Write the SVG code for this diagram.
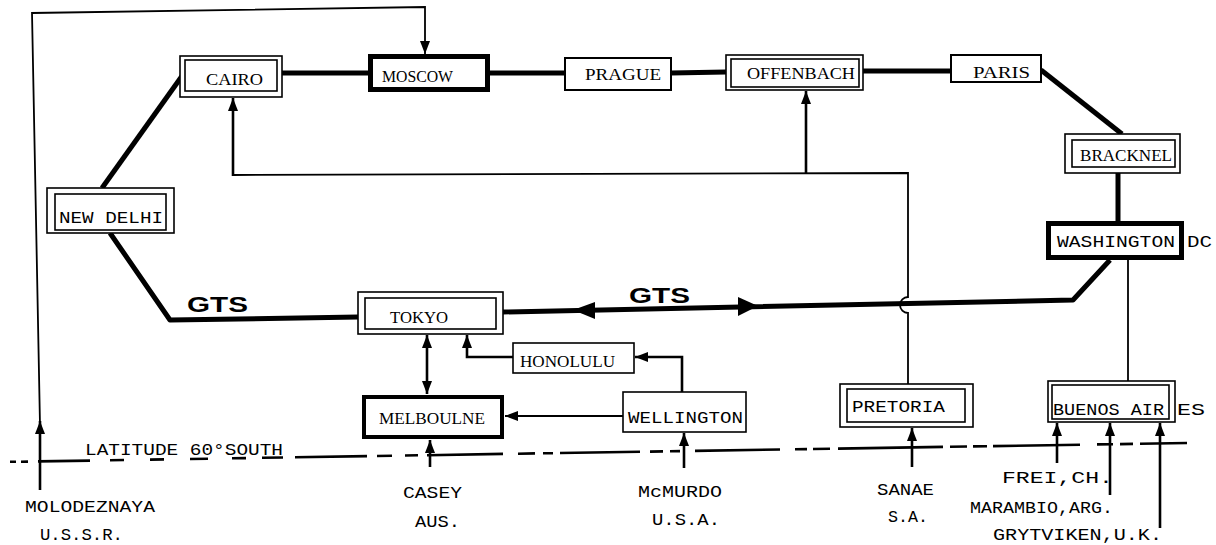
<svg xmlns="http://www.w3.org/2000/svg" width="1216" height="545" viewBox="0 0 1216 545">
<style>
.bx{fill:#fff;stroke:#000;stroke-width:1.6}
.tk{fill:#fff;stroke:#000;stroke-width:5}
.tk4{fill:#fff;stroke:#000;stroke-width:4}
.gts{fill:none;stroke:#000;stroke-width:5;stroke-linejoin:round}
.th{fill:none;stroke:#000;stroke-width:1.8}
.th2{fill:none;stroke:#000;stroke-width:2.6}
.lat{fill:none;stroke:#000;stroke-width:2.6}
.mono{font-family:"Liberation Mono","DejaVu Sans Mono",monospace;font-size:17px;fill:#000}
.serif{font-family:"Liberation Serif","DejaVu Serif",serif;font-size:16px;fill:#000}
.gl{font-family:"Liberation Sans",Arial,sans-serif;font-weight:bold;font-size:22px;fill:#000}
</style>
<defs>
<marker id="ah" viewBox="0 0 13 10" refX="13" refY="5" markerWidth="13" markerHeight="10" markerUnits="userSpaceOnUse" orient="auto-start-reverse"><path d="M0,0 L13,5 L0,10 z" fill="#000"/></marker>
</defs>
<rect width="1216" height="545" fill="#fff"/>

<g id="connectors">
  <path class="gts" d="M282,73 L368,73"/>
  <path class="gts" d="M490,73 L565,73"/>
  <path class="gts" d="M671,73 L726,72"/>
  <path class="gts" d="M863,71 L951,71"/>
  <path class="gts" d="M1041,70 L1122,134"/>
  <path class="gts" d="M1118,173 L1118,221"/>
  <path class="gts" d="M1110,260 L1073,300 L503,312"/>
  <path class="gts" d="M358,317 L170,320 L110,233"/>
  <path class="gts" d="M102,188 L182,76"/>
  <polygon points="573,310 595,302 595,319" fill="#000"/>
  <polygon points="758,306 738,297 738,316" fill="#000"/>
  <path class="th2" d="M40,490 L40,421" marker-end="url(#ah)"/>
  <path class="th" d="M40,425 L32,13 L425,7 L425,54" marker-end="url(#ah)"/>
  <path class="th" d="M908,384 L908,313 A8,8 0 0 1 908,297 L908,173 L233,175"/>
  <path class="th2" d="M233,176 L233,98" marker-end="url(#ah)"/>
  <path class="th2" d="M806,174 L806,91" marker-end="url(#ah)"/>
  <path class="th" d="M1128,260 L1128,381"/>
  <path class="th2" d="M427,335 L427,394" marker-start="url(#ah)" marker-end="url(#ah)"/>
  <path class="th2" d="M513,357 L467,357 L467,335" marker-end="url(#ah)"/>
  <path class="th2" d="M682,392 L682,357 L635,357" marker-end="url(#ah)"/>
  <path class="th" d="M623,416 L505,416" marker-end="url(#ah)"/>
  <path class="th2" d="M430,467 L430,440" marker-end="url(#ah)"/>
  <path class="th2" d="M684,468 L684,433" marker-end="url(#ah)"/>
  <path class="th2" d="M912,467 L912,428" marker-end="url(#ah)"/>
  <path class="th2" d="M1057,463 L1057,423" marker-end="url(#ah)"/>
  <path class="th2" d="M1110,495 L1110,423" marker-end="url(#ah)"/>
  <path class="th2" d="M1160,528 L1160,423" marker-end="url(#ah)"/>
</g>

<g id="latitude">
  <path class="lat" d="M10,461.8 L16,461.7 M21,461.7 L28,461.6 M38,461.4 L90,460.6 M110,460.2 L124,460 M150,459.6 L164,459.4 M190,459 L208,458.7 M232,458.3 L246,458.1 M262,457.8 L283,457.5 M295,457.3 L367,456.1 M377,456 L392,455.7 M405,455.5 L418,455.3 M427,455.2 L503,453.9 M518,453.7 L535,453.4 M543,453.3 L553,453.2 M560,453 L640,451.8 M650,451.6 L663,451.4 M670,451.3 L680,451.1 M695,450.9 L780,449.5 M795,449.3 L807,449.1 M813,449 L830,448.7 M838,448.6 L943,446.9 M950,446.8 L967,446.5 M973,446.4 L987,446.2 M993,446.1 L1080,444.7 M1097,444.4 L1113,444.2 M1120,444.1 L1133,443.9 M1140,443.8 L1187,443"/>
  <text class="mono" x="85" y="455" textLength="198" lengthAdjust="spacingAndGlyphs">LATITUDE 60°SOUTH</text>
</g>

<g id="cairo">
  <rect class="bx" x="180" y="56" width="102" height="41"/>
  <rect class="bx" x="185" y="60" width="92" height="31"/>
  <text class="serif" x="206" y="85" textLength="57" lengthAdjust="spacingAndGlyphs">CAIRO</text>
</g>
<g id="moscow">
  <rect class="tk" x="370.5" y="56.5" width="117" height="33"/>
  <text class="serif" x="382" y="82" textLength="71" lengthAdjust="spacingAndGlyphs">MOSCOW</text>
</g>
<g id="prague">
  <rect class="bx" x="565" y="58" width="106" height="32" style="stroke-width:2"/>
  <text class="serif" x="585" y="80" textLength="76" lengthAdjust="spacingAndGlyphs">PRAGUE</text>
</g>
<g id="offenbach">
  <rect class="bx" x="726" y="55" width="137" height="35"/>
  <rect class="bx" x="731" y="59" width="128" height="28"/>
  <text class="serif" x="747" y="79" textLength="108" lengthAdjust="spacingAndGlyphs">OFFENBACH</text>
</g>
<g id="paris">
  <rect class="bx" x="951" y="55" width="90" height="27" style="stroke-width:2"/>
  <text class="serif" x="973" y="78" textLength="57" lengthAdjust="spacingAndGlyphs">PARIS</text>
</g>
<g id="bracknel">
  <rect class="bx" x="1065" y="134" width="115" height="39"/>
  <rect class="bx" x="1072" y="140" width="103" height="27"/>
  <text class="serif" x="1080" y="161" textLength="92" lengthAdjust="spacingAndGlyphs">BRACKNEL</text>
</g>
<g id="washington">
  <rect class="tk" x="1048.5" y="223.5" width="133" height="34"/>
  <text class="mono" x="1057" y="247" textLength="118" lengthAdjust="spacingAndGlyphs">WASHINGTON</text>
  <text class="mono" x="1187" y="247" textLength="25" lengthAdjust="spacingAndGlyphs">DC</text>
</g>
<g id="new-delhi">
  <rect class="bx" x="47" y="188" width="127" height="45"/>
  <rect class="bx" x="55" y="194" width="111" height="36"/>
  <text class="mono" x="59" y="223" textLength="104" lengthAdjust="spacingAndGlyphs">NEW DELHI</text>
</g>
<g id="gts-labels">
  <text class="gl" x="187" y="312" textLength="61" lengthAdjust="spacingAndGlyphs">GTS</text>
  <text class="gl" x="629" y="303" textLength="61" lengthAdjust="spacingAndGlyphs">GTS</text>
</g>
<g id="tokyo">
  <rect class="bx" x="358" y="292" width="145" height="42"/>
  <rect class="bx" x="365" y="298" width="131" height="31"/>
  <text class="serif" x="390" y="323" textLength="58" lengthAdjust="spacingAndGlyphs">TOKYO</text>
</g>
<g id="honolulu">
  <rect class="bx" x="513" y="343" width="121" height="30"/>
  <text class="serif" x="520" y="367" textLength="95" lengthAdjust="spacingAndGlyphs">HONOLULU</text>
</g>
<g id="melboulne">
  <rect class="tk4" x="364" y="397" width="138" height="40"/>
  <text class="serif" x="379" y="424" textLength="106" lengthAdjust="spacingAndGlyphs">MELBOULNE</text>
</g>
<g id="wellington">
  <rect class="bx" x="623" y="392" width="123" height="40"/>
  <text class="mono" x="628" y="423" textLength="115" lengthAdjust="spacingAndGlyphs">WELLINGTON</text>
</g>
<g id="pretoria">
  <rect class="bx" x="840" y="384" width="133" height="43"/>
  <rect class="bx" x="847" y="389" width="118" height="33"/>
  <text class="mono" x="852" y="412" textLength="93" lengthAdjust="spacingAndGlyphs">PRETORIA</text>
</g>
<g id="buenos-aires">
  <rect class="bx" x="1048" y="381" width="127" height="41"/>
  <rect class="bx" x="1052" y="385" width="117" height="34"/>
  <text class="mono" x="1053" y="415" textLength="111" lengthAdjust="spacingAndGlyphs">BUENOS AIR</text>
  <text class="mono" x="1177" y="415" textLength="28" lengthAdjust="spacingAndGlyphs">ES</text>
</g>
<g id="molodeznaya">
  <text class="mono" x="25" y="512" textLength="130" lengthAdjust="spacingAndGlyphs">MOLODEZNAYA</text>
  <text class="mono" x="40" y="540" textLength="83" lengthAdjust="spacingAndGlyphs">U.S.S.R.</text>
</g>
<g id="casey">
  <text class="mono" x="403" y="498" textLength="59" lengthAdjust="spacingAndGlyphs">CASEY</text>
  <text class="mono" x="415" y="527" textLength="45" lengthAdjust="spacingAndGlyphs">AUS.</text>
</g>
<g id="mcmurdo">
  <text class="mono" x="638" y="497" textLength="84" lengthAdjust="spacingAndGlyphs">McMURDO</text>
  <text class="mono" x="652" y="525" textLength="68" lengthAdjust="spacingAndGlyphs">U.S.A.</text>
</g>
<g id="sanae">
  <text class="mono" x="877" y="495" textLength="57" lengthAdjust="spacingAndGlyphs">SANAE</text>
  <text class="mono" x="888" y="522" textLength="40" lengthAdjust="spacingAndGlyphs">S.A.</text>
</g>
<g id="frei">
  <text class="mono" x="1002" y="483" textLength="111" lengthAdjust="spacingAndGlyphs">FREI,CH.</text>
</g>
<g id="marambio">
  <text class="mono" x="970" y="513" textLength="143" lengthAdjust="spacingAndGlyphs">MARAMBIO,ARG.</text>
</g>
<g id="grytviken">
  <text class="mono" x="993" y="540" textLength="169" lengthAdjust="spacingAndGlyphs">GRYTVIKEN,U.K.</text>
</g>
</svg>
